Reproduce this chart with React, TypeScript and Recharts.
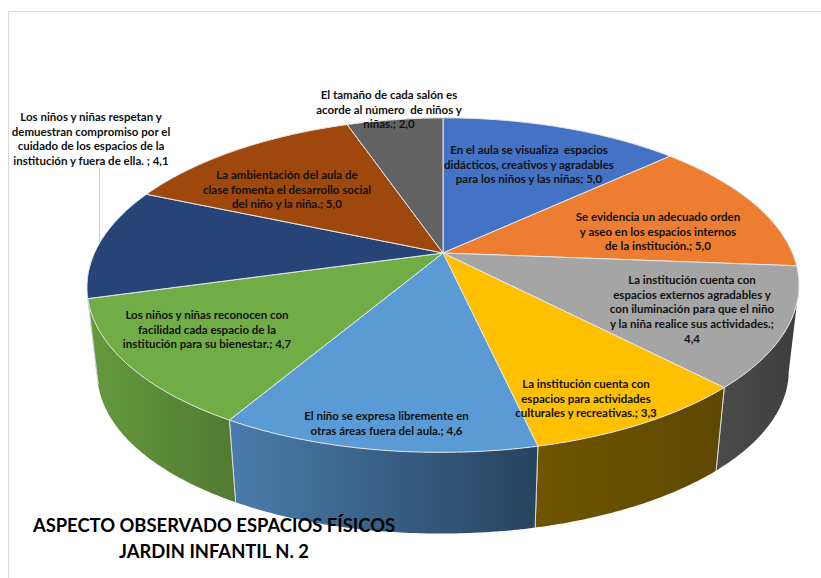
import React from 'react'
import { PieChart, Pie } from 'recharts'

const categories = [
  'En el aula se visualiza  espacios didácticos, creativos y agradables para los niños y las niñas',
  'Se evidencia un adecuado orden y aseo en los espacios internos de la institución.',
  'La institución cuenta con espacios externos agradables y con iluminación para que el niño y la niña realice sus actividades.',
  'La institución cuenta con espacios para actividades culturales y recreativas.',
  'El niño se expresa libremente en otras áreas fuera del aula.',
  'Los niños y niñas reconocen con facilidad cada espacio de la institución para su bienestar.',
  'Los niños y niñas respetan y demuestran compromiso por el cuidado de los espacios de la institución y fuera de ella.',
  'La ambientación del aula de clase fomenta el desarrollo social del niño y la niña.',
  'El tamaño de cada salón es acorde al número  de niños y niñas.',
]
const values = [5.0, 5.0, 4.4, 3.3, 4.6, 4.7, 4.1, 5.0, 2.0]
const topColors = ['#4472C4', '#ED7D31', '#A5A5A5', '#FFC000', '#5B9BD5', '#70AD47', '#264478', '#9E480E', '#636363']
const wallFrom = ['#2d4d85', '#a0541f', '#4b4b4b', '#6f5500', '#4a7dac', '#649a3e', '#1a2f52', '#6c310a', '#434343']
const wallTo = ['#2d4d85', '#a0541f', '#3e3e3e', '#5e4800', '#27435f', '#527a31', '#1a2f52', '#6c310a', '#434343']

const labelLines = [
  ['En el aula se visualiza  espacios', 'didácticos, creativos y agradables', 'para los niños y las niñas; 5,0'],
  ['Se evidencia un adecuado orden', 'y aseo en los espacios internos', 'de la institución.; 5,0'],
  ['La institución cuenta con', 'espacios externos agradables y', 'con iluminación para que el niño', 'y la niña realice sus actividades.;', '4,4'],
  ['La institución cuenta con', 'espacios para actividades', 'culturales y recreativas.; 3,3'],
  ['El niño se expresa libremente en', 'otras áreas fuera del aula.; 4,6'],
  ['Los niños y niñas reconocen con', 'facilidad cada espacio de la', 'institución para su bienestar.; 4,7'],
  ['Los niños y niñas respetan y', 'demuestran compromiso por el', 'cuidado de los espacios de la', 'institución y fuera de ella. ; 4,1'],
  ['La ambientación del aula de', 'clase fomenta el desarrollo social', 'del niño y la niña.; 5,0'],
  ['El tamaño de cada salón es', 'acorde al número  de niños y', 'niñas.; 2,0'],
]
const labelX = [529, 658, 692, 586, 386.5, 207, 91, 287, 389]
const labelY = [151, 218, 281, 385, 417, 316, 118, 176, 96]
const titleLines = ['ASPECTO OBSERVADO ESPACIOS FÍSICOS', 'JARDIN INFANTIL N. 2']

const data = categories.map((name, i) => ({ name, value: values[i] }))

const RAD = Math.PI / 180
const TILT = 0.461
const PERSP = 0.1916
const LEFT_SAG = 0.006
const FONT = 'Lato, sans-serif'

// circle on the table top -> perspective view, angle in recharts degrees
function project(cx: number, cy: number, r: number, deg: number, scale = 1, drop = 0) {
  const u = Math.cos(deg * RAD)
  const v = Math.sin(deg * RAD)
  const w = 1 + PERSP * v
  const x = cx + (scale * r * u) / w
  // the picture's left side sits a little lower than its right side
  return {
    x,
    y: cy + drop - (scale * r * TILT * v) / w + LEFT_SAG * Math.max(0, cx - x),
  }
}

function arcAngles(start: number, end: number) {
  const out: number[] = []
  const n = Math.max(2, Math.ceil(Math.abs(end - start) * 2))
  for (let i = 0; i <= n; i++) out.push(start + ((end - start) * i) / n)
  return out
}

function TopFace(props: any) {
  const { cx, cy, outerRadius, startAngle, endAngle, fill } = props
  const pts = arcAngles(startAngle, endAngle).map((a) => project(cx, cy, outerRadius, a))
  const d = `M${cx},${cy} ` + pts.map((p) => `L${p.x.toFixed(1)},${p.y.toFixed(1)}`).join(' ') + ' Z'
  return <path d={d} fill={fill} stroke="#e6e6e6" strokeWidth={1} strokeLinejoin="round" />
}

const DEPTH_SCALE = 0.971
const DROP = 87

function WallFace(props: any) {
  const { cx, cy, outerRadius, startAngle, endAngle, index } = props
  const front = arcAngles(startAngle, endAngle).filter((a) => Math.sin(a * RAD) <= -PERSP)
  if (front.length < 2) return <g />
  const upper = front.map((a) => project(cx, cy, outerRadius, a))
  const lower = front.map((a) => project(cx, cy, outerRadius, a, DEPTH_SCALE, DROP)).reverse()
  const d = [...upper, ...lower].map((p, i) => `${i ? 'L' : 'M'}${p.x.toFixed(1)},${p.y.toFixed(1)}`).join(' ') + ' Z'
  const edges = [startAngle, endAngle].filter((a) => Math.sin(a * RAD) < -PERSP)
  const id = `wall-${index}`
  return (
    <g>
      <defs>
        <linearGradient id={id} x1="0" y1="0" x2="1" y2="0">
          <stop offset="0" stopColor={wallFrom[index]} />
          <stop offset="1" stopColor={wallTo[index]} />
        </linearGradient>
      </defs>
      <path d={d} fill={`url(#${id})`} />
      {edges.map((a) => {
        const p = project(cx, cy, outerRadius, a)
        const q = project(cx, cy, outerRadius, a, DEPTH_SCALE, DROP)
        return <line key={a} x1={p.x} y1={p.y} x2={q.x} y2={q.y} stroke="#d9d9d9" strokeWidth={1} />
      })}
    </g>
  )
}

function SliceLabel(props: any) {
  const { index } = props
  return (
    <text x={labelX[index]} y={labelY[index]} textAnchor="middle" fontFamily={FONT} fontWeight={700} fontSize={11.5} fill="#111">
      {labelLines[index].map((line, i) => (
        <tspan key={i} x={labelX[index]} y={labelY[index] + i * 14.7} dominantBaseline="middle" style={{ whiteSpace: 'pre' }}>
          {line}
        </tspan>
      ))}
    </text>
  )
}

export default function App() {
  return (
    <div style={{ position: 'absolute', left: 0, top: 0, width: 821, height: 578, background: '#fff', overflow: 'hidden' }}>
      <div style={{ position: 'absolute', left: 8, top: 11, right: 0, bottom: -5, borderLeft: '1px solid #d9d9d9', borderTop: '1px solid #d9d9d9' }} />
      <div style={{ position: 'absolute', left: 99, top: 168, width: 1, height: 74, background: '#d0d0d0' }} />
      <PieChart width={821} height={578} margin={{ top: 0, right: 0, bottom: 0, left: 0 }}>
        <Pie
          data={data}
          dataKey="value"
          nameKey="name"
          cx={443}
          cy={253}
          outerRadius={349.4}
          startAngle={90}
          endAngle={-270}
          shape={WallFace}
          label={false}
          labelLine={false}
          isAnimationActive={false}
        />
        <Pie
          data={data.map((d, i) => ({ ...d, fill: topColors[i] }))}
          dataKey="value"
          nameKey="name"
          cx={443}
          cy={253}
          outerRadius={349.4}
          startAngle={90}
          endAngle={-270}
          shape={TopFace}
          label={SliceLabel}
          labelLine={false}
          isAnimationActive={false}
        />
      </PieChart>
      <svg width={821} height={578} style={{ position: 'absolute', left: 0, top: 0 }}>
        {titleLines.map((line, i) => (
          <text key={line} x={214} y={532 + i * 26} textAnchor="middle" fontFamily={FONT} fontWeight={700} fontSize={18.4} fill="#000">
            {line}
          </text>
        ))}
      </svg>
    </div>
  )
}
